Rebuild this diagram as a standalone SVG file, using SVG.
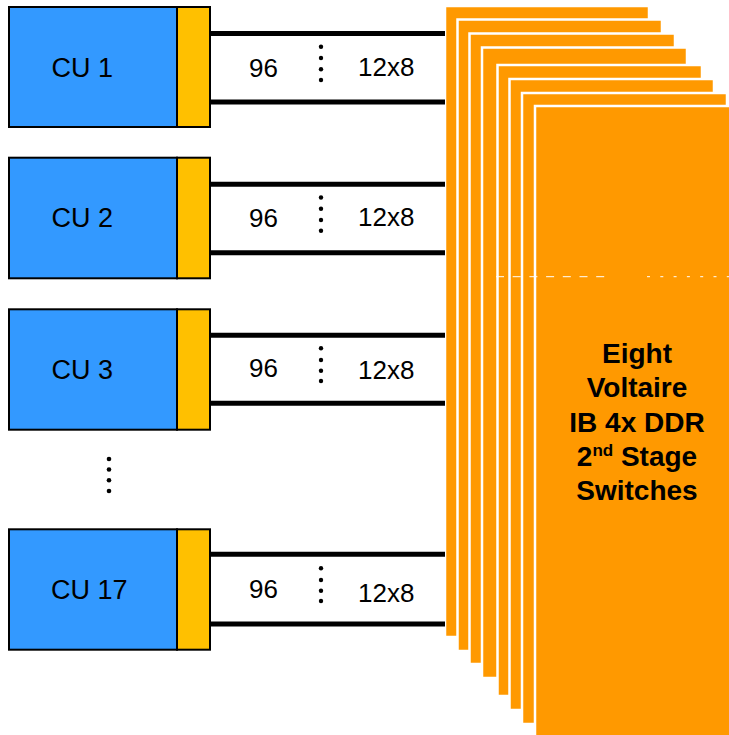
<svg xmlns="http://www.w3.org/2000/svg" width="729" height="735" viewBox="0 0 729 735">
<style>
.cu{fill:#3399FF;stroke:#000;stroke-width:2}
.port{fill:#FFC000;stroke:#000;stroke-width:2}
.cut{font-family:"Liberation Sans",Arial,sans-serif;font-size:27px;fill:#000}
.lbl{font-family:"Liberation Sans",Arial,sans-serif;font-size:26px;fill:#000}
.sw{fill:#FF9900;stroke:#FFFFFF;stroke-width:2.5}
.bus{stroke:#000;stroke-width:5;fill:none}
.swt{font-family:"Liberation Sans",Arial,sans-serif;font-size:28px;font-weight:bold;fill:#000;text-anchor:middle}
</style>
<rect width="729" height="735" fill="#fff"/>
<g id="switches">
<rect class="sw" x="445" y="6" width="204" height="631"/>
<rect class="sw" x="457.5" y="19.5" width="204.5" height="631.5"/>
<rect class="sw" x="469.5" y="33.5" width="205.5" height="630.5"/>
<rect class="sw" x="482" y="47.5" width="205" height="630.5"/>
<rect class="sw" x="497.5" y="65" width="204.5" height="631"/>
<rect class="sw" x="509.5" y="79" width="204.5" height="631"/>
<rect class="sw" x="522" y="93" width="205" height="631"/>
<rect class="sw" x="535" y="106" width="205" height="640"/>
<line x1="496" y1="276.7" x2="605" y2="276.7" stroke="#fff" stroke-width="1" stroke-dasharray="8 8.7"/>
<line x1="647" y1="276.7" x2="729" y2="276.7" stroke="#fff" stroke-width="1" stroke-dasharray="3 10.3"/>
<text class="swt"><tspan x="637" y="363">Eight</tspan><tspan x="637" y="397">Voltaire</tspan><tspan x="637" y="432">IB 4x DDR</tspan><tspan x="637" y="500">Switches</tspan></text>
<text class="swt" x="637" y="466">2<tspan font-size="17" dy="-10">nd</tspan><tspan dy="10"> Stage</tspan></text>
</g>
<g id="connectors">
<line class="bus" x1="210" y1="33.5" x2="445" y2="33.5"/>
<line class="bus" x1="210" y1="102" x2="445" y2="102"/>
<line class="bus" x1="210" y1="184.3" x2="445" y2="184.3"/>
<line class="bus" x1="210" y1="252.7" x2="445" y2="252.7"/>
<line class="bus" x1="210" y1="335.3" x2="445" y2="335.3"/>
<line class="bus" x1="210" y1="403.3" x2="445" y2="403.3"/>
<line class="bus" x1="210" y1="554.3" x2="445" y2="554.3"/>
<line class="bus" x1="210" y1="624" x2="445" y2="624"/>
<text class="lbl" x="249" y="77.3">96</text><text class="lbl" x="358" y="75.5">12x8</text>
<g fill="#000"><circle cx="321" cy="46.7" r="2.2"/><circle cx="321" cy="58" r="2.2"/><circle cx="321" cy="69.3" r="2.2"/><circle cx="321" cy="80" r="2.2"/></g>
<text class="lbl" x="249" y="226.5">96</text><text class="lbl" x="358" y="225.5">12x8</text>
<g fill="#000"><circle cx="321" cy="197.5" r="2.2"/><circle cx="321" cy="208.8" r="2.2"/><circle cx="321" cy="220" r="2.2"/><circle cx="321" cy="230.8" r="2.2"/></g>
<text class="lbl" x="249" y="376.7">96</text><text class="lbl" x="358" y="379">12x8</text>
<g fill="#000"><circle cx="321" cy="348.3" r="2.2"/><circle cx="321" cy="360" r="2.2"/><circle cx="321" cy="370.7" r="2.2"/><circle cx="321" cy="381" r="2.2"/></g>
<text class="lbl" x="249" y="598.3">96</text><text class="lbl" x="358" y="601.5">12x8</text>
<g fill="#000"><circle cx="321" cy="568.3" r="2.2"/><circle cx="321" cy="580" r="2.2"/><circle cx="321" cy="590.7" r="2.2"/><circle cx="321" cy="601" r="2.2"/></g>
</g>
<g id="cu1">
<rect class="cu" x="9" y="7" width="168" height="120"/>
<rect class="port" x="177" y="7" width="33" height="120"/>
<text class="cut" x="51.5" y="76.7">CU 1</text>
</g>
<g id="cu2">
<rect class="cu" x="9" y="157.7" width="168" height="120.6"/>
<rect class="port" x="177" y="157.7" width="33" height="120.6"/>
<text class="cut" x="51.5" y="227.3">CU 2</text>
</g>
<g id="cu3">
<rect class="cu" x="9" y="309.3" width="168" height="120.4"/>
<rect class="port" x="177" y="309.3" width="33" height="120.4"/>
<text class="cut" x="51.5" y="379">CU 3</text>
</g>
<g id="ellipsis" fill="#000">
<circle cx="109" cy="459" r="2.3"/><circle cx="109" cy="469.5" r="2.3"/><circle cx="109" cy="480.3" r="2.3"/><circle cx="109" cy="491" r="2.3"/>
</g>
<g id="cu17">
<rect class="cu" x="9" y="529.3" width="168" height="120.4"/>
<rect class="port" x="177" y="529.3" width="33" height="120.4"/>
<text class="cut" x="51" y="599">CU 17</text>
</g>
</svg>
